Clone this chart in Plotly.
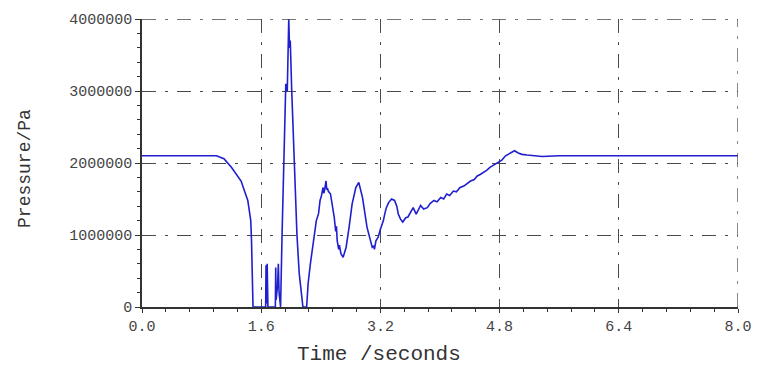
import plotly.graph_objects as go

# Time (s) and pressure (in millions of Pa)
time_s = [0.0, 0.5, 1.00, 1.10, 1.20, 1.33, 1.42, 1.46, 1.47, 1.49,
          1.66, 1.665, 1.672, 1.68, 1.69,
          1.79, 1.795, 1.80, 1.82, 1.83, 1.84, 1.85,
          1.86, 1.88, 1.90, 1.93, 1.95, 1.96, 1.97, 1.98, 1.99, 2.01, 2.04, 2.08, 2.11, 2.16, 2.21,
          2.23, 2.26, 2.28, 2.29, 2.30, 2.31, 2.34, 2.37, 2.39, 2.41, 2.43, 2.44, 2.45, 2.47, 2.48, 2.49, 2.50, 2.53,
          2.55, 2.57, 2.58, 2.60, 2.61, 2.62, 2.64, 2.65, 2.67, 2.70, 2.72, 2.74, 2.78, 2.82, 2.87, 2.91, 2.96, 3.02,
          3.06, 3.09, 3.11, 3.12, 3.14, 3.17, 3.20, 3.24, 3.26, 3.28, 3.31, 3.35, 3.39, 3.42, 3.44, 3.47, 3.50,
          3.54, 3.57, 3.61, 3.64, 3.68, 3.71, 3.74, 3.78, 3.83, 3.87, 3.92, 3.96, 4.01, 4.05, 4.09,
          4.13, 4.18, 4.22, 4.27, 4.32, 4.37, 4.41, 4.46, 4.50, 4.54, 4.59, 4.63, 4.67, 4.72, 4.78,
          4.83, 4.88, 4.94, 5.00, 5.05, 5.10, 5.17, 5.24, 5.37, 5.6, 6.0, 6.4, 6.8, 7.2, 7.6, 8.0]
pressure_mpa = [2.10, 2.10, 2.10, 2.06, 1.94, 1.75, 1.48, 1.20, 0.92, 0.0,
                0.0, 0.58, 0.05, 0.60, 0.0,
                0.0, 0.55, 0.10, 0.30, 0.60, 0.20, 0.0,
                0.0, 1.00, 2.00, 3.10, 3.00, 3.50, 4.00, 3.60, 3.70, 3.00, 2.00, 1.00, 0.47, 0.0, 0.0,
                0.33, 0.60, 0.74, 0.88, 0.95, 1.02, 1.20, 1.30, 1.48, 1.55, 1.66, 1.58, 1.62, 1.75, 1.63, 1.65, 1.61, 1.57,
                1.45, 1.32, 1.25, 1.05, 1.12, 0.92, 0.80, 0.86, 0.74, 0.69, 0.78, 0.83, 1.11, 1.43, 1.66, 1.73, 1.52, 1.11,
                0.95, 0.83, 0.85, 0.80, 0.92, 0.97, 1.08, 1.20, 1.30, 1.38, 1.45, 1.50, 1.48, 1.40, 1.29, 1.22, 1.18,
                1.24, 1.25, 1.33, 1.38, 1.29, 1.36, 1.41, 1.36, 1.38, 1.44, 1.48, 1.46, 1.52, 1.50, 1.57,
                1.55, 1.61, 1.60, 1.66, 1.68, 1.72, 1.75, 1.77, 1.82, 1.84, 1.87, 1.90, 1.94, 1.97, 2.00,
                2.04, 2.10, 2.13, 2.17, 2.14, 2.12, 2.11, 2.10, 2.09, 2.10, 2.10, 2.10, 2.10, 2.10, 2.10, 2.10]
pressure_pa = [p * 1e6 for p in pressure_mpa]

x_ticks = [0.0, 1.6, 3.2, 4.8, 6.4, 8.0]
x_tick_labels = ["0.0", "1.6", "3.2", "4.8", "6.4", "8.0"]
y_ticks = [0, 1000000, 2000000, 3000000, 4000000]
y_tick_labels = ["0", "1000000", "2000000", "3000000", "4000000"]

FONT = "Liberation Mono, Courier New, monospace"
GRID = "#4a4a4a"
DASH = "14px,9px,3px,9px"

fig = go.Figure()
fig.add_trace(go.Scatter(x=time_s, y=pressure_pa, mode="lines",
                         line=dict(color="#1f1fd0", width=1.6), showlegend=False))

fig.update_xaxes(range=[0, 8], tickvals=x_ticks, ticktext=x_tick_labels,
                 showline=True, linecolor="#333", linewidth=1.5,
                 ticks="outside", ticklen=4, tickcolor="#333",
                 showgrid=True, gridcolor=GRID, griddash=DASH, gridwidth=1.3,
                 zeroline=False,
                 minor=dict(dtick=0.32, ticks="outside", ticklen=3, tickcolor="#333", showgrid=False),
                 tickfont=dict(family=FONT, size=15, color="#444"))
fig.update_yaxes(range=[0, 4000000], tickvals=y_ticks, ticktext=y_tick_labels,
                 showline=True, linecolor="#333", linewidth=1.5,
                 ticks="outside", ticklen=5, tickcolor="#333",
                 showgrid=True, gridcolor=GRID, griddash=DASH, gridwidth=1.3,
                 zeroline=False,
                 minor=dict(dtick=200000, ticks="outside", ticklen=3, tickcolor="#333", showgrid=False),
                 tickfont=dict(family=FONT, size=15, color="#444"))

# grid lines at the far edges (top and right), which plotly omits
fig.add_shape(type="line", xref="paper", yref="y", x0=0, x1=1, y0=y_ticks[-1], y1=y_ticks[-1],
              line=dict(color=GRID, width=1.3, dash=DASH))
fig.add_shape(type="line", xref="x", yref="paper", x0=x_ticks[-1], x1=x_ticks[-1], y0=0, y1=1,
              line=dict(color=GRID, width=1.3, dash=DASH))

fig.add_annotation(text="Time /seconds", xref="paper", yref="paper", x=0.398, y=-0.166,
                   xanchor="center", yanchor="middle", showarrow=False,
                   font=dict(family=FONT, size=21, color="#333"))
fig.add_annotation(text="Pressure/Pa", xref="paper", yref="paper", x=-0.196, y=0.48,
                   xanchor="center", yanchor="middle", showarrow=False, textangle=-90,
                   font=dict(family=FONT, size=18, color="#333"))

fig.update_layout(width=764, height=366, margin=dict(l=142, r=15, t=17, b=59),
                  plot_bgcolor="white", paper_bgcolor="white")

fig.write_html("out.html", config={"displayModeBar": False},
               post_script="document.body.style.margin='0';document.body.style.padding='0';")
